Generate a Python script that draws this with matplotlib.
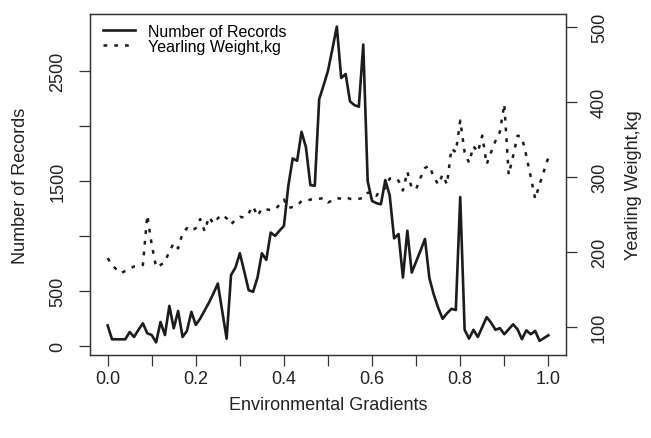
import numpy as np
import matplotlib
matplotlib.use("Agg")
import matplotlib.pyplot as plt
from matplotlib.lines import Line2D

plt.rcParams['font.family'] = ['Liberation Sans', 'DejaVu Sans']

# gradient values 0.00 .. 1.00 in steps of 0.01
gradient = np.arange(101) / 100

records = [
    190, 64, 64, 64, 64, 130, 85, 150, 209, 118,
    103, 36, 221, 103, 367, 164, 321, 85, 140, 313,
    195, 252, 325, 397, 480, 570, 320, 70, 648, 715,
    845, 680, 510, 495, 624, 845, 785, 1033, 1003, 1050,
    1094, 1458, 1706, 1685, 1948, 1806, 1464, 1458, 2245, 2370,
    2503, 2700, 2903, 2436, 2473, 2224, 2190, 2176, 2740, 1500,
    1320, 1300, 1290, 1510, 1370, 980, 1020, 625, 1050, 670,
    770, 870, 975, 620, 470, 350, 250, 300, 340, 330,
    1355, 150, 70, 150, 85, 175, 265, 215, 150, 165,
    110, 155, 200, 155, 65, 145, 110, 140, 50, 75,
    100,
]

weight = [
    192, 183, 177, 172, 175, 178, 181, 181, 183, 249,
    210, 180, 183, 187, 201, 212, 205, 225, 232, 228,
    232, 244, 228, 247, 238, 245, 250, 245, 237, 243,
    247, 246, 252, 261, 248, 258, 257, 256, 257, 263,
    270, 259, 260, 262, 268, 268, 270, 270, 271, 272,
    266, 269, 272, 271, 273, 271, 270, 271, 272, 279,
    280, 275, 284, 285, 298, 299, 295, 282, 307, 285,
    284, 299, 312, 315, 300, 290, 303, 290, 338, 333,
    375, 333, 319, 341, 333, 355, 317, 333, 348, 360,
    397, 303, 328, 355, 353, 328, 300, 271, 290, 308,
    326,
]

x_ticks = np.arange(11) / 10
x_labels = ["0.0", "", "0.2", "", "0.4", "", "0.6", "", "0.8", "", "1.0"]
rec_ticks = [0, 500, 1000, 1500, 2000, 2500]
rec_labels = ["0", "500", "", "1500", "", "2500"]
wt_ticks = [100, 200, 300, 400, 500]
wt_range = (80, 500)

ink = '#1c1c1c'


def r_lim(lo, hi):
    # R style axis range: 4% padding on each side
    d = (hi - lo) * 0.04
    return lo - d, hi + d


fig = plt.figure(figsize=(6.51, 4.39), dpi=100)
ax = fig.add_axes([90 / 651, 83 / 439, 476 / 651, 341 / 439])

ax.plot(gradient, records, color=ink, lw=1.9)
ax.set_xlim(*r_lim(0, 1))
ax.set_ylim(*r_lim(min(records), max(records)))

ax2 = ax.twinx()
dots = (0, (1.5, 2.8))
ax2.plot(gradient, weight, color=ink, lw=1.8, linestyle=dots, dash_capstyle='butt')
ax2.set_ylim(*r_lim(*wt_range))

for a in (ax, ax2):
    for s in a.spines.values():
        s.set_linewidth(0.9)
        s.set_color('#333333')

ax.set_xticks(x_ticks)
ax.set_xticklabels(x_labels)
ax.set_yticks(rec_ticks)
ax.set_yticklabels(rec_labels)
ax2.set_yticks(wt_ticks)

ax.tick_params(axis='x', direction='out', length=8, width=0.9, pad=3,
               labelsize=13, colors='#333333', labelcolor='#222222')
ax.tick_params(axis='y', direction='out', length=8, width=0.9, pad=9,
               labelsize=13, colors='#333333', labelcolor='#222222', labelrotation=90)
ax2.tick_params(axis='y', direction='out', length=8, width=0.9, pad=10,
                labelsize=13, colors='#333333', labelcolor='#222222', labelrotation=90)
plt.setp(ax.get_yticklabels(), va='center')
plt.setp(ax2.get_yticklabels(), va='center')

ax.set_xlabel('Environmental Gradients', fontsize=13, color='#222222', va='center')
ax.xaxis.set_label_coords(0.501, -0.144)
ax.set_ylabel('Number of Records', fontsize=13, color='#222222', va='center')
ax.yaxis.set_label_coords(-0.147, 0.5)
ax2.set_ylabel('Yearling Weight,kg', fontsize=13, color='#222222', va='center', rotation=90)
ax2.yaxis.set_label_coords(1.141, 0.5)

handles = [Line2D([], [], color=ink, lw=1.9),
           Line2D([], [], color=ink, lw=1.8, linestyle=dots, dash_capstyle='butt')]
ax2.legend(handles, ['Number of Records', 'Yearling Weight,kg'],
           loc='upper left', bbox_to_anchor=(0.027, 0.972), frameon=False,
           fontsize=11.5, handlelength=2.0, handletextpad=0.8,
           labelspacing=0.0, borderpad=0, borderaxespad=0)

fig.savefig('out.png', dpi=100)
